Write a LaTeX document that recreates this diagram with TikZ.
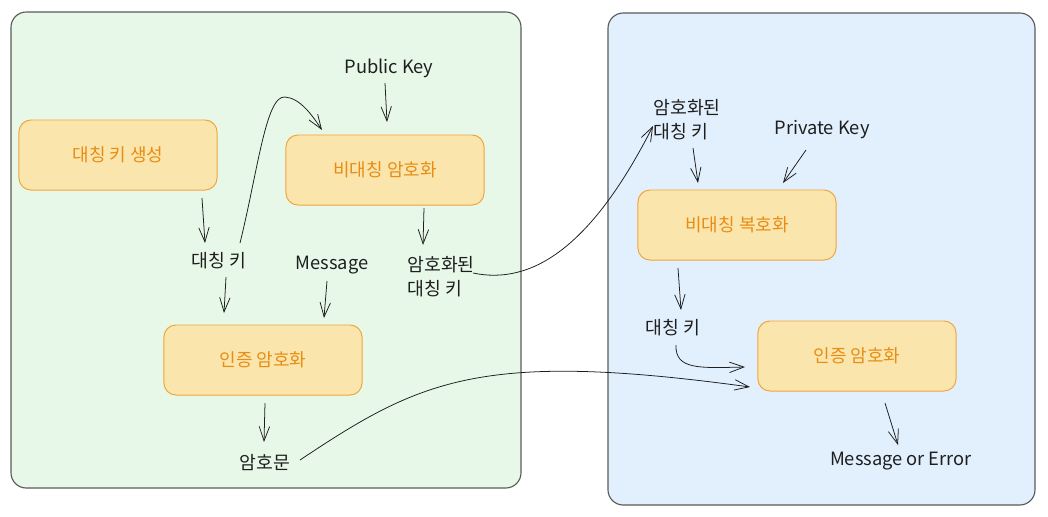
\documentclass[tikz,border=0pt]{standalone}
\usepackage{fontspec}
\setmainfont{Noto Sans CJK KR}
\usetikzlibrary{positioning,arrows.meta,calc}
\definecolor{InkDark}{RGB}{30,30,30}
\definecolor{PanelLine}{RGB}{90,90,90}
\definecolor{GreenPanel}{RGB}{232,248,232}
\definecolor{BluePanel}{RGB}{226,240,253}
\definecolor{StepFill}{RGB}{250,230,172}
\definecolor{StepLine}{RGB}{240,165,60}
\definecolor{StepText}{RGB}{232,140,20}
\tikzset{
  flow/.style={-{Straight Barb[length=3.6mm,width=2.6mm]},line width=0.55pt,draw=InkDark},
  panel/.style={draw=PanelLine,line width=0.8pt,rounded corners=0.38cm},
  stepbox/.style={draw=StepLine,fill=StepFill,line width=0.7pt,rounded corners=0.3cm,
    minimum width=4.95cm,minimum height=1.75cm,align=center,
    font=\fontsize{12.8}{15}\selectfont,text=StepText},
  lbl/.style={align=left,font=\fontsize{13}{17}\selectfont,text=InkDark,inner sep=1pt}
}
\begin{document}
\begin{tikzpicture}[x=0.025cm,y=-0.025cm]
  \useasboundingbox (0,0) rectangle (1048,516);
  % sender and receiver panels
  \draw[panel,fill=GreenPanel] (11,12) rectangle (521,488);
  \draw[panel,fill=BluePanel] (608,13) rectangle (1035,505);
  % sender side
  \node[stepbox] (keygen) at (118,155) {대칭 키 생성};
  \node[stepbox] (asymenc) at (385,170) {비대칭 암호화};
  \node[stepbox] (authencL) at (263,360) {인증 암호화};
  \node[lbl] (pubkey) at (389,68) {Public Key};
  \node[lbl] (symkey) at (219,261) {대칭 키};
  \node[lbl] (message) at (332,265) {Message};
  \node[lbl] (enckey) at (441,277) {암호화된\\대칭 키};
  \node[lbl] (cipher) at (265,463) {암호문};
  % receiver side
  \node[stepbox] (asymdec) at (737,225) {비대칭 복호화};
  \node[stepbox] (authencR) at (857,356) {인증 암호화};
  \node[lbl] (enckeyR) at (687,120) {암호화된\\대칭 키};
  \node[lbl] (privkey) at (822,130) {Private Key};
  \node[lbl] (symkeyR) at (673,328) {대칭 키};
  \node[lbl] (result) at (901,461) {Message or Error};
  % connectors
  \draw[flow] ($(keygen)+(84,43)$) -- ($(symkey)+(-14,-18)$);
  \draw[flow] ($(symkey)+(7,16)$) -- ($(authencL)+(-39,-47)$);
  \draw[flow] ($(message)+(-5,16)$) -- ($(authencL)+(61,-42)$);
  \draw[flow] ($(pubkey)+(-4,15)$) -- ($(asymenc)+(2,-48)$);
  \draw[flow] ($(asymenc)+(39,38)$) -- ($(enckey)+(-18,-32)$);
  \draw[flow] ($(symkey)+(21,-18)$) .. controls (258,170) and (266,95) .. (285,97)
    .. controls (300,98) and (312,115) .. ($(asymenc)+(-63,-40)$);
  \draw[flow] ($(authencL)+(2,43)$) -- ($(cipher)+(-1,-21)$);
  \draw[flow] ($(enckey)+(32,-4)$) .. controls (530,285) and (590,250) .. ($(enckeyR)+(-34,6)$);
  \draw[flow] ($(enckeyR)+(6,28)$) -- ($(asymdec)+(-39,-42)$);
  \draw[flow] ($(privkey)+(-16,20)$) -- ($(asymdec)+(46,-42)$);
  \draw[flow] ($(asymdec)+(-59,43)$) -- ($(symkeyR)+(8,-18)$);
  \draw[flow] ($(symkeyR)+(3,17)$) .. controls (675,370) and (700,368) .. ($(authencR)+(-112,11)$);
  \draw[flow] ($(cipher)+(35,-3)$) .. controls (420,380) and (480,350) .. ($(authencR)+(-107,31)$);
  \draw[flow] ($(authencR)+(28,47)$) -- ($(result)+(-3,-16)$);
\end{tikzpicture}
\end{document}
